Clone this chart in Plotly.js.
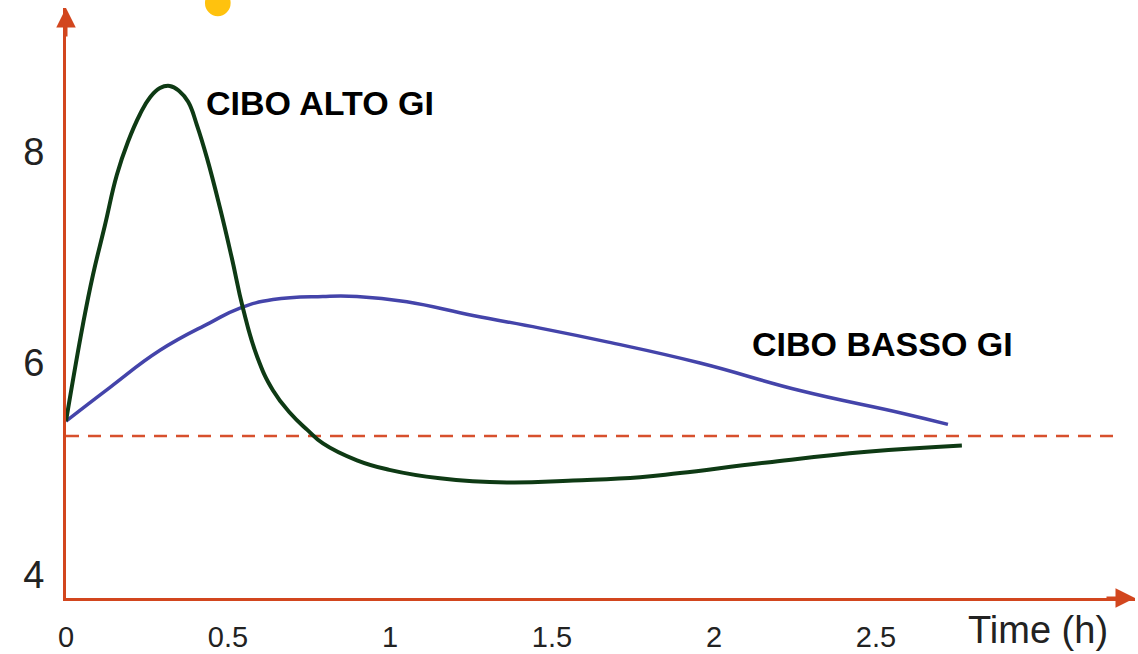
<!DOCTYPE html>
<html>
<head>
<meta charset="utf-8">
<script src="https://cdn.plot.ly/plotly-3.0.1.min.js"></script>
<style>html,body{margin:0;padding:0;background:#fff;}#chart{width:1138px;height:654px;}</style>
</head>
<body>
<div id="chart"></div>
<script>
// Time (h)
const altoTime = [0, 0.052, 0.083, 0.120, 0.157, 0.191, 0.228, 0.259, 0.290, 0.320, 0.350, 0.377, 0.404, 0.435, 0.475, 0.512, 0.546, 0.590, 0.639, 0.691, 0.744, 0.793, 0.898, 0.998, 1.154, 1.361, 1.565, 1.772, 1.895, 2.164, 2.472, 2.765];
const altoValue = [5.45, 6.36, 6.83, 7.30, 7.78, 8.09, 8.35, 8.51, 8.60, 8.62, 8.57, 8.47, 8.25, 7.94, 7.47, 6.99, 6.52, 6.06, 5.74, 5.53, 5.37, 5.24, 5.08, 4.99, 4.91, 4.87, 4.89, 4.92, 4.96, 5.06, 5.16, 5.22];
const bassoTime = [0, 0.136, 0.290, 0.444, 0.537, 0.639, 0.793, 0.898, 1.052, 1.256, 1.463, 1.670, 1.957, 2.265, 2.574, 2.722];
const bassoValue = [5.45, 5.77, 6.12, 6.38, 6.52, 6.60, 6.63, 6.63, 6.58, 6.45, 6.33, 6.20, 6.00, 5.74, 5.53, 5.42];
const baselineTime = [0, 3.24];
const baselineValue = [5.31, 5.31];
const xTickVals = [0, 0.5, 1, 1.5, 2, 2.5];
const xTickText = ['0', '0.5', '1', '1.5', '2', '2.5'];
const yTickVals = [4, 6, 8];
const yTickText = ['4', '6', '8'];
const altoLabel = 'CIBO ALTO GI';
const bassoLabel = 'CIBO BASSO GI';
const xTitle = 'Time (h)';

const axisColor = 'rgb(210,70,30)';
const font = 'Liberation Sans, Arial, sans-serif';

const traces = [
  {x: baselineTime, y: baselineValue, mode: 'lines', line: {color: 'rgb(215,80,45)', width: 2.3, dash: '13px,9px'}, hoverinfo: 'skip', showlegend: false},
  {x: bassoTime, y: bassoValue, mode: 'lines', line: {color: 'rgb(68,68,170)', width: 3.5, shape: 'spline', smoothing: 1.3}, showlegend: false},
  {x: altoTime, y: altoValue, mode: 'lines', line: {color: 'rgb(14,58,20)', width: 4, shape: 'spline', smoothing: 1.3}, showlegend: false}
];

const layout = {
  width: 1138, height: 654,
  margin: {l: 66, r: 3, t: 8, b: 56},
  paper_bgcolor: '#fff', plot_bgcolor: '#fff',
  font: {family: font, color: '#222'},
  xaxis: {
    range: [0, 1069/324], showgrid: false, zeroline: false,
    showline: true, linecolor: axisColor, linewidth: 3,
    tickvals: xTickVals, ticktext: xTickText, ticks: '',
    ticklabelstandoff: 11,
    tickfont: {size: 29, family: font, color: '#222'}
  },
  yaxis: {
    range: [3.778, 9.357], showgrid: false, zeroline: false,
    showline: true, linecolor: axisColor, linewidth: 3,
    tickvals: yTickVals, ticktext: yTickText, ticks: '',
    ticklabelstandoff: 11,
    tickfont: {size: 38, family: font, color: '#222'}
  },
  shapes: [
    {type: 'circle', xref: 'paper', yref: 'paper', x0: 0.130, x1: 0.154, y0: 0.986, y1: 1.031, fillcolor: '#FFC20E', line: {width: 0}}
  ],
  annotations: [
    {x: 0.426, y: 8.46, xref: 'x', yref: 'y', text: '<b>' + altoLabel + '</b>', showarrow: false, xanchor: 'left', yanchor: 'middle', font: {size: 34, family: font, color: '#000'}},
    {x: 2.11, y: 6.18, xref: 'x', yref: 'y', text: '<b>' + bassoLabel + '</b>', showarrow: false, xanchor: 'left', yanchor: 'middle', font: {size: 34, family: font, color: '#000'}},
    {x: 0.842, y: -0.054, xref: 'paper', yref: 'paper', text: xTitle, showarrow: false, xanchor: 'left', yanchor: 'middle', font: {size: 38, family: font, color: '#222'}},
    {x: 1, y: 0, xref: 'paper', yref: 'paper', ax: -30, ay: 0, axref: 'pixel', ayref: 'pixel', text: '', showarrow: true, arrowhead: 2, arrowsize: 1.3, arrowwidth: 3, arrowcolor: axisColor},
    {x: 0, y: 1, xref: 'paper', yref: 'paper', ax: 0, ay: 30, axref: 'pixel', ayref: 'pixel', text: '', showarrow: true, arrowhead: 2, arrowsize: 1.3, arrowwidth: 3, arrowcolor: axisColor}
  ]
};

Plotly.newPlot('chart', traces, layout, {displayModeBar: false, staticPlot: true});
</script>
</body>
</html>
